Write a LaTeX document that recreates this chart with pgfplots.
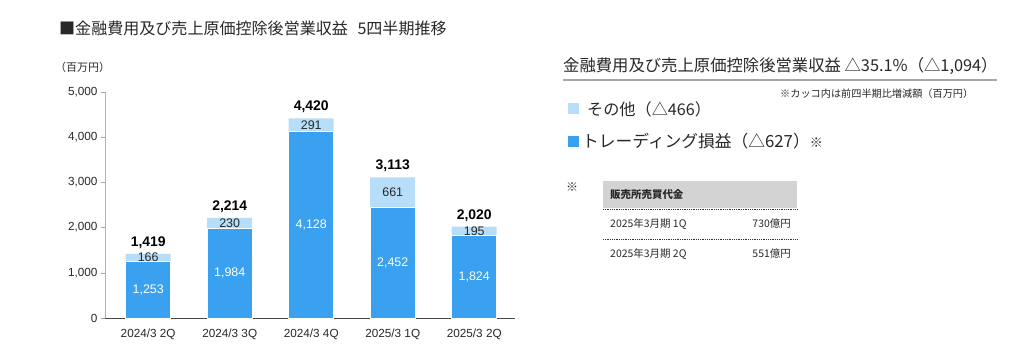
\documentclass[border=0pt]{standalone}
\usepackage{pgfplots}
\pgfplotsset{compat=1.18}
\usepackage{pgfplotstable}
\usepackage{fontspec}
\setmainfont{Liberation Sans}
\newfontfamily\jp{Noto Sans CJK JP}
\definecolor{dkblue}{RGB}{58,160,240}
\definecolor{ltblue}{RGB}{183,221,248}
\definecolor{txt}{RGB}{40,40,40}
\definecolor{hdr}{RGB}{211,211,211}

\pgfplotstableread{
x dark light total
0 1253 166 1419
1 1984 230 2214
2 4128 291 4420
3 2452 661 3113
4 1824 195 2020
}\datatable

\begin{document}
\begin{tikzpicture}
\useasboundingbox (0,0) rectangle (1025bp,354bp);
\begin{axis}[
  at={(105bp,36bp)}, anchor=south west,
  width=410bp, height=226bp, scale only axis,
  xmin=-0.53, xmax=4.5, ymin=0, ymax=5000,
  axis lines*=left,
  xtick={0,...,4},
  xticklabels={2024/3 2Q,2024/3 3Q,2024/3 4Q,2025/3 1Q,2025/3 2Q},
  ytick={0,1000,...,5000},
  scaled y ticks=false,
  /pgf/number format/1000 sep={,},
  /pgf/number format/assume math mode=true,
  xtick style={draw=none},
  ytick style={draw=gray!70, line width=0.6pt},
  tick align=outside, major tick length=4bp,
  x axis line style={draw=gray!55!black, line width=1pt},
  y axis line style={draw=gray!60, line width=0.8pt},
  tick label style={font=\fontsize{11.8}{12}\selectfont, text=txt},
  xticklabel style={yshift=-3bp},
  clip=false,
]
\addplot[ybar, bar width=45bp, bar shift=0pt, fill=ltblue, draw=none]
  table[x=x, y expr=\thisrow{dark}+\thisrow{light}] {\datatable};
\addplot[ybar, bar width=45bp, bar shift=0pt, fill=dkblue, draw=white, line width=0.8pt]
  table[x=x, y=dark] {\datatable};
% labels inside dark segment
\addplot[draw=none, mark=none, point meta=explicit, nodes near coords,
  every node near coord/.style={anchor=center, text=white, font=\fontsize{12.5}{13}\selectfont}]
  table[x=x, y expr=\thisrow{dark}/2, meta=dark] {\datatable};
% labels inside light segment
\addplot[draw=none, mark=none, point meta=explicit, nodes near coords,
  every node near coord/.style={anchor=center, text=txt, font=\fontsize{12.5}{13}\selectfont}]
  table[x=x, y expr=\thisrow{dark}+\thisrow{light}/2, meta=light] {\datatable};
% totals
\addplot[draw=none, mark=none, point meta=explicit, nodes near coords,
  every node near coord/.style={anchor=south, yshift=2bp, text=black, font=\fontsize{14}{14}\selectfont\bfseries}]
  table[x=x, y expr=\thisrow{dark}+\thisrow{light}, meta=total] {\datatable};
\end{axis}

% left title and unit
\node[anchor=west, text=txt, inner sep=0pt] at (59bp,326bp)
  {\jp\fontsize{16.1}{17}\selectfont ■金融費用及び売上原価控除後営業収益\hspace{0.6em}5四半期推移};
\node[anchor=west, text=txt, inner sep=0pt] at (55bp,287bp)
  {\jp\fontsize{11}{12}\selectfont （百万円）};

% right panel
\node[anchor=west, text=txt, inner sep=0pt] at (563bp,288bp)
  {\jp\fontsize{16.4}{17}\selectfont 金融費用及び売上原価控除後営業収益 △35.1\%（△1,094）};
\draw[gray!70, line width=1.4pt] (563bp,274bp) -- (997bp,274bp);
\node[anchor=west, text=txt, inner sep=0pt] at (780bp,260bp)
  {\jp\fontsize{10.2}{11}\selectfont ※カッコ内は前四半期比増減額（百万円）};

\fill[ltblue] (568bp,240bp) rectangle (579bp,251bp);
\node[anchor=west, text=txt, inner sep=0pt] at (587bp,245bp)
  {\jp\fontsize{16.2}{17}\selectfont その他（△466）};
\fill[dkblue] (568bp,207bp) rectangle (579bp,218bp);
\node[anchor=west, text=txt, inner sep=0pt] at (582bp,213bp)
  {\jp\fontsize{16.8}{17}\selectfont トレーディング損益（△627）\fontsize{13}{14}\selectfont ※};

\node[anchor=west, text=txt, inner sep=0pt] at (566bp,167bp)
  {\jp\fontsize{12}{12}\selectfont ※};
\fill[hdr] (603bp,146bp) rectangle (797bp,173bp);
\node[anchor=west, text=txt, inner sep=0pt] at (610bp,159bp)
  {\jp\fontsize{10.5}{11}\selectfont\bfseries 販売所売買代金};
\draw[gray!40!black, line width=0.8pt, densely dotted] (603bp,145bp) -- (797bp,145bp);
\node[anchor=west, text=txt, inner sep=0pt] at (610bp,130bp)
  {\jp\fontsize{10.5}{11}\selectfont 2025年3月期 1Q};
\node[anchor=east, text=txt, inner sep=0pt] at (791bp,130bp)
  {\jp\fontsize{10.5}{11}\selectfont 730億円};
\draw[gray!40!black, line width=0.8pt, densely dotted] (603bp,115bp) -- (797bp,115bp);
\node[anchor=west, text=txt, inner sep=0pt] at (610bp,100bp)
  {\jp\fontsize{10.5}{11}\selectfont 2025年3月期 2Q};
\node[anchor=east, text=txt, inner sep=0pt] at (791bp,100bp)
  {\jp\fontsize{10.5}{11}\selectfont 551億円};
\end{tikzpicture}
\end{document}
